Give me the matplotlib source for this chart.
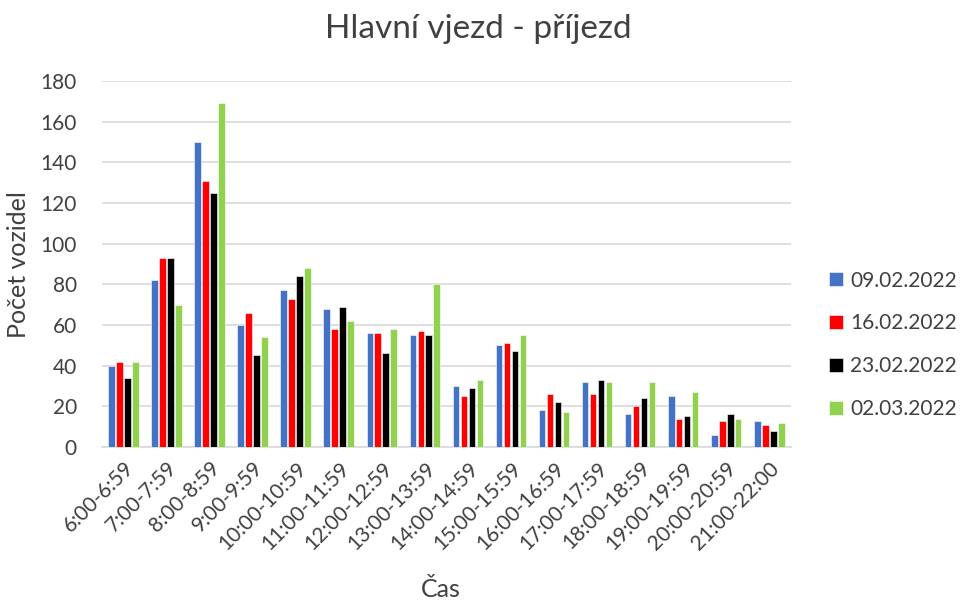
#!/usr/bin/env python3
"""Hlavní vjezd - příjezd: vehicle counts per hour, four survey days."""
import numpy as np
import matplotlib
matplotlib.use("Agg")
import matplotlib.pyplot as plt

plt.rcParams["font.family"] = ["Lato", "DejaVu Sans"]

hours = ["6:00-6:59", "7:00-7:59", "8:00-8:59", "9:00-9:59", "10:00-10:59",
         "11:00-11:59", "12:00-12:59", "13:00-13:59", "14:00-14:59",
         "15:00-15:59", "16:00-16:59", "17:00-17:59", "18:00-18:59",
         "19:00-19:59", "20:00-20:59", "21:00-22:00"]
days = ["09.02.2022", "16.02.2022", "23.02.2022", "02.03.2022"]
d0902 = [40, 82, 150, 60, 77, 68, 56, 55, 30, 50, 18, 32, 16, 25, 6, 13]
d1602 = [42, 93, 131, 66, 73, 58, 56, 57, 25, 51, 26, 26, 20, 14, 13, 11]
d2302 = [34, 93, 125, 45, 84, 69, 46, 55, 29, 47, 22, 33, 24, 15, 16, 8]
d0203 = [42, 70, 169, 54, 88, 62, 58, 80, 33, 55, 17, 32, 32, 27, 14, 12]
colors = ["#4472C4", "#FF0000", "#000000", "#92D050"]
TXT = "#404040"


def main():
    fig = plt.figure(figsize=(9.62, 6.02), dpi=100)
    ax = fig.add_axes([0.106, 0.2575, 0.716, 0.608])

    x = np.arange(len(hours))
    step = 0.185
    for i, (vals, label, color) in enumerate(zip([d0902, d1602, d2302, d0203], days, colors)):
        ax.bar(x + (i - 1.5) * step, vals, width=0.155, color=color, label=label,
               edgecolor="white", linewidth=0.4, zorder=3)

    ax.set_xlim(-0.5, len(hours) - 0.5)
    ax.set_ylim(0, 180)
    ax.set_yticks(range(0, 181, 20))
    ax.grid(axis="y", color="#d9d9d9", linewidth=1.2, zorder=0)
    for side in ["top", "right", "left"]:
        ax.spines[side].set_visible(False)
    ax.spines["bottom"].set_color("#d9d9d9")
    ax.spines["bottom"].set_linewidth(1.2)
    ax.tick_params(length=0, labelsize=15, colors=TXT)
    ax.tick_params(axis="y", pad=18)
    ax.tick_params(axis="x", pad=8)
    ax.set_xticks(x)
    ax.set_xticklabels(hours, rotation=45, ha="right", rotation_mode="anchor")

    fig.text(0.497, 0.952, "Hlavní vjezd - příjezd", fontsize=24, color=TXT,
             ha="center", va="center")
    fig.text(0.019, 0.56, "Počet vozidel", fontsize=18, color=TXT,
             rotation=90, ha="center", va="center")
    fig.text(0.458, 0.02, "Čas", fontsize=18, color=TXT, ha="center", va="center")

    ax.legend(loc="center left", bbox_to_anchor=(0.862, 0.427),
              bbox_transform=fig.transFigure, frameon=False,
              fontsize=15, labelcolor=TXT, handlelength=0.65, handleheight=0.65,
              labelspacing=1.1, handletextpad=0.35, borderaxespad=0, borderpad=0)

    fig.savefig("out.png", dpi=100, facecolor="white")
    plt.close(fig)


if __name__ == "__main__":
    main()
